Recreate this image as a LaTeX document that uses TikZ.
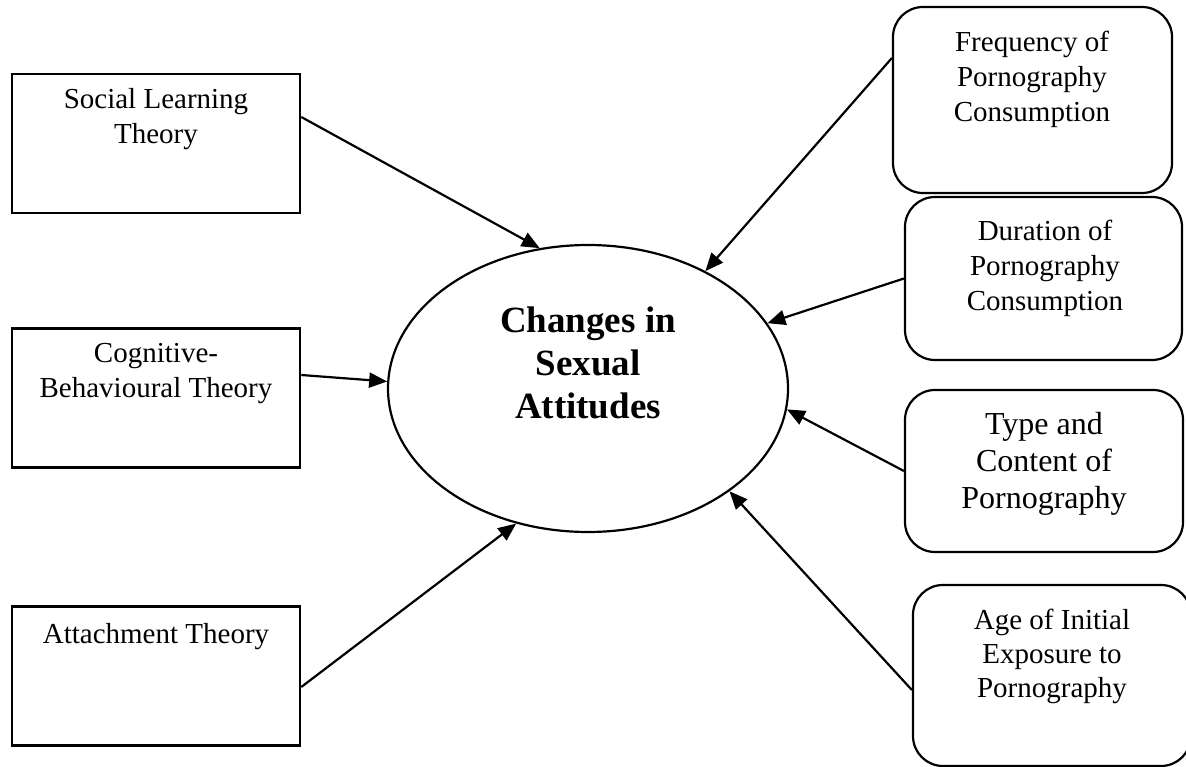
\documentclass[tikz,border=0pt]{standalone}
\usepackage{fontspec}
\setmainfont{Liberation Serif}
\usetikzlibrary{shapes.geometric,arrows.meta}
\begin{document}
\begin{tikzpicture}[x=1pt,y=-1pt,
  theorybox/.style={draw, line width=2.6pt, rectangle, minimum width=288pt, minimum height=139pt, inner sep=0pt},
  factorbox/.style={draw, line width=2.2pt, rectangle, rounded corners=30pt, inner sep=0pt},
  boxtext/.style={align=center, font=\fontsize{29}{35}\selectfont, inner sep=0pt},
  outcome/.style={draw, line width=2.2pt, ellipse, minimum width=400pt, minimum height=287pt, inner sep=0pt},
  link/.style={line width=2.2pt, -{Triangle[length=18pt,width=15pt]}}
]
\useasboundingbox (0,0) rectangle (1186,767);

% theory boxes on the left
\node[theorybox] (b1) at (156,143.5) {};
\node[theorybox] (b2) at (156,398) {};
\node[theorybox] (b3) at (156,676) {};
\node[boxtext] at (156,119.5) {Social Learning\\Theory};
\node[boxtext] at (156,373.5) {Cognitive-\\Behavioural Theory};
\node[boxtext] at (156,637) {Attachment Theory};

% central outcome
\node[outcome] (out) at (588,388.5) {};
\node[align=center, inner sep=0pt, font=\bfseries\fontsize{37}{43}\selectfont] at (588,363) {Changes in\\Sexual\\Attitudes};

% pornography factors on the right
\node[factorbox, minimum width=279pt, minimum height=186pt] (r1) at (1032.5,100) {};
\node[factorbox, minimum width=277pt, minimum height=163pt] (r2) at (1043.5,278.5) {};
\node[factorbox, minimum width=278pt, minimum height=162pt] (r3) at (1044,471) {};
\node[factorbox, minimum width=278pt, minimum height=181pt] (r4) at (1052,675.5) {};
\node[boxtext] at (1032,79) {Frequency of\\Pornography\\Consumption};
\node[boxtext] at (1045,268) {Duration of\\Pornography\\Consumption};
\node[boxtext, font=\fontsize{32}{37}\selectfont] at (1044,464) {Type and\\Content of\\Pornography};
\node[boxtext, font=\fontsize{29}{34}\selectfont] at (1052,656) {Age of Initial\\Exposure to\\Pornography};

% arrows into the outcome
\draw[link] ([yshift=26.5pt]b1.east) -- (out.109.9);
\draw[link] ([yshift=23pt]b2.east) -- (out.178.4);
\draw[link] ([yshift=-11pt]b3.east) -- (out.242.5);
\draw[link] ([yshift=42pt]r1.west) -- (out.45.4);
\draw[link] (r2.west) -- (out.20.4);
\draw[link] (r3.west) -- (out.-6.7);
\draw[link] ([yshift=-14.5pt]r4.west) -- (out.-36.1);
\end{tikzpicture}
\end{document}
